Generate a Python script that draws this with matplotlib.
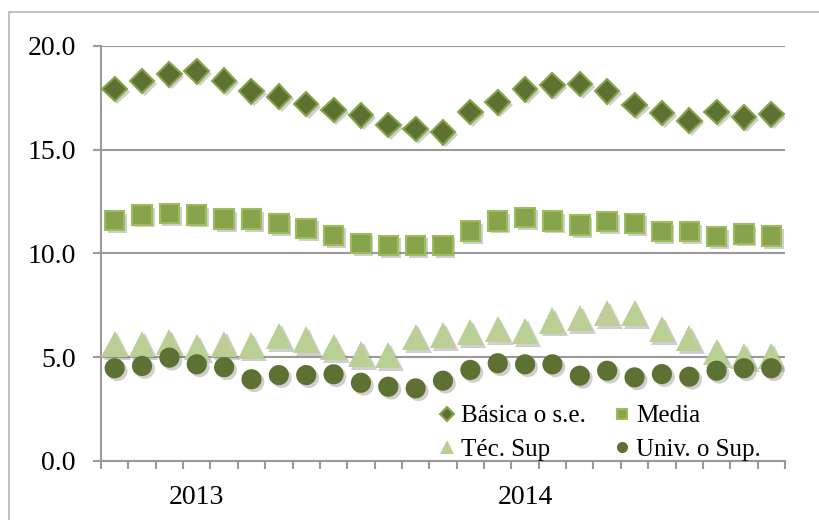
import matplotlib.pyplot as plt
import matplotlib.patheffects as pe
from matplotlib.patches import Rectangle
import numpy as np

# datos (25 trimestres móviles, 2013-2014)
basica = [17.93, 18.31, 18.63, 18.78, 18.33, 17.82, 17.56, 17.20, 16.92, 16.66,
          16.19, 16.00, 15.84, 16.83, 17.29, 17.91, 18.10, 18.17, 17.82, 17.16,
          16.77, 16.40, 16.82, 16.56, 16.71]
media = [11.58, 11.86, 11.92, 11.86, 11.66, 11.66, 11.45, 11.21, 10.88, 10.49,
         10.39, 10.39, 10.39, 11.08, 11.57, 11.74, 11.57, 11.37, 11.53, 11.45,
         11.06, 11.06, 10.81, 10.94, 10.84]
tec_sup = [5.65, 5.65, 5.73, 5.49, 5.65, 5.57, 6.03, 5.85, 5.49, 5.17,
           5.11, 5.98, 6.06, 6.22, 6.36, 6.27, 6.78, 6.88, 7.12, 7.12,
           6.35, 5.93, 5.24, 5.06, 5.07]
univ = [4.47, 4.58, 4.98, 4.66, 4.52, 3.94, 4.14, 4.14, 4.18, 3.77,
        3.58, 3.50, 3.87, 4.39, 4.71, 4.66, 4.66, 4.11, 4.35, 4.03,
        4.19, 4.06, 4.35, 4.47, 4.47]
year_labels = ['2013', '2014']
year_pos = [3, 15]

plt.rcParams['font.family'] = ['Liberation Serif', 'DejaVu Serif']

fig = plt.figure(figsize=(8.2, 5.2), dpi=100)
ax = fig.add_axes([101/820, 1 - 461/520, 684/820, 415/520])

# marco exterior del gráfico
fig.patches.append(Rectangle((9/820, -0.1), 1.2, 1 - 12/520 + 0.1, transform=fig.transFigure,
                             fill=False, edgecolor='#b5b5b5', linewidth=1.2))

x = np.arange(len(basica))
shadow = [pe.SimplePatchShadow(offset=(2, -2), shadow_rgbFace='#777777', alpha=0.35), pe.Normal()]

l1, = ax.plot(x, basica, 'D', ms=12.5, color='#5d7133', mec='#84a548', mew=1.5,
              label='Básica o s.e.', path_effects=shadow, zorder=3)
l2, = ax.plot(x, media, 's', ms=14, color='#87a34b', mec='#9dbd5c', mew=1.5,
              label='Media', path_effects=shadow, zorder=3)
l3, = ax.plot(x, tec_sup, '^', ms=19, color='#b9cf94', mec='#b9cf94', mew=0,
              label='Téc. Sup', path_effects=shadow, zorder=3)
l4, = ax.plot(x, univ, 'o', ms=14.5, color='#5d7133', mec='#5d7133', mew=0,
              label='Univ. o Sup.', path_effects=shadow, zorder=3)

ax.set_xlim(-0.5, len(basica) - 0.5)
ax.set_ylim(0, 20)
ax.set_yticks([0, 5, 10, 15, 20])
ax.set_yticklabels([f'{v:.1f}' for v in [0, 5, 10, 15, 20]])
ax.yaxis.grid(True, color='#9a9a9a', linewidth=1.5)
ax.set_axisbelow(True)

ax.set_xticks(np.arange(-0.5, len(basica)), minor=True)
ax.set_xticks(year_pos)
ax.set_xticklabels(year_labels)
ax.tick_params(axis='x', which='major', length=0, pad=17, labelsize=20)
ax.tick_params(axis='x', which='minor', length=6, width=1.5, color='#9a9a9a')
ax.tick_params(axis='y', length=6, width=1.5, color='#9a9a9a', pad=12, labelsize=20)

for s in ['top', 'right']:
    ax.spines[s].set_visible(False)
for s in ['left', 'bottom']:
    ax.spines[s].set_color('#9a9a9a')
    ax.spines[s].set_linewidth(1.5)

leg = ax.legend([l1, l3, l2, l4], [l.get_label() for l in [l1, l3, l2, l4]],
                ncol=2, loc='upper left', bbox_to_anchor=(0.497, 0.135), frameon=False,
                fontsize=18, markerscale=0.55, handlelength=0.5, handletextpad=0.3,
                columnspacing=1.2, labelspacing=0.45, borderaxespad=0, borderpad=0)
for h in leg.legend_handles:
    h.set_path_effects([])

fig.savefig('out.png', dpi=100)
